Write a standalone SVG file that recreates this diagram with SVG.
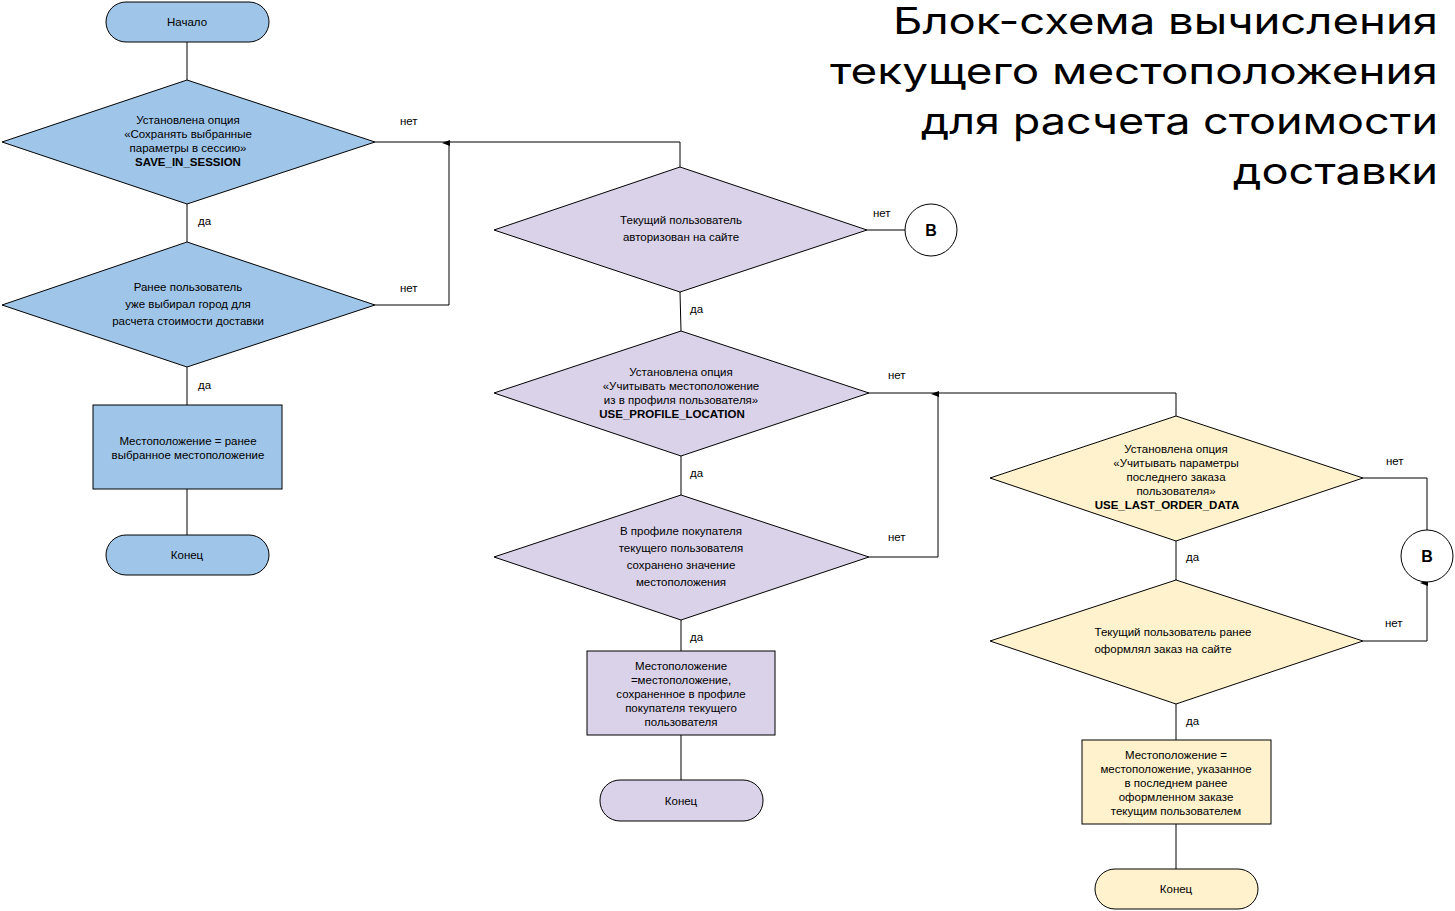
<svg xmlns="http://www.w3.org/2000/svg" width="1455" height="911" viewBox="0 0 1455 911">
<style>
.s{stroke:#000;stroke-width:1}
.b{fill:#9fc5e8}.p{fill:#d9d2e9}.y{fill:#fff2cc}
text{font-family:"Liberation Sans",Arial,sans-serif;font-size:11.5px;fill:#000}
.c{text-anchor:middle}
.bd{font-weight:bold}
.t{font-family:Inter,"Open Sans",sans-serif;font-size:37px;text-anchor:end}
.cl{fill:none;stroke:#000;stroke-width:1}
</style>
<defs><marker id="a" markerWidth="6" markerHeight="8" refX="3" refY="7" orient="auto-start-reverse" markerUnits="userSpaceOnUse"><path d="M0,8 L3,0 L6,8 Z" fill="#000"/></marker></defs>
<rect width="1455" height="911" fill="#fff"/>
<g id="title"><text class="t" x="1438" y="34" textLength="545" lengthAdjust="spacingAndGlyphs">Блок-схема вычисления</text><text class="t" x="1438" y="84" textLength="608" lengthAdjust="spacingAndGlyphs">текущего местоположения</text><text class="t" x="1438" y="134" textLength="517" lengthAdjust="spacingAndGlyphs">для расчета стоимости</text><text class="t" x="1438" y="184" textLength="205" lengthAdjust="spacingAndGlyphs">доставки</text></g>
<g id="connectors">
<path class="cl" d="M187,42V80M187,204V242M187,367V405M187,489V535"/>
<path class="cl" d="M375,142H680V167"/>
<path class="cl" d="M375,305H449V143" marker-end="url(#a)"/>
<path class="cl" d="M867,230H905M680,292L681,331M681,456V495M681,620V651M681,735V780"/>
<path class="cl" d="M869,393H1176V416"/>
<path class="cl" d="M869,557H938V394" marker-end="url(#a)"/>
<path class="cl" d="M1363,478H1427V530"/>
<path class="cl" d="M1363,641H1427V583" marker-end="url(#a)"/>
<path class="cl" d="M1176,541V580M1176,704V740M1176,824V869"/>
<text x="400" y="125">нет</text><text x="400" y="292">нет</text><text x="873" y="217">нет</text><text x="888" y="379">нет</text><text x="888" y="541">нет</text><text x="1386" y="465">нет</text><text x="1385" y="627">нет</text>
<text x="198" y="225">да</text><text x="198" y="389">да</text><text x="690" y="313">да</text><text x="690" y="477">да</text><text x="690" y="641">да</text><text x="1186" y="561">да</text><text x="1186" y="725">да</text>
</g>
<g id="start1"><rect class="s b" x="106" y="2" width="163" height="40" rx="20"/><text class="c" x="187" y="26">Начало</text></g>
<g id="d1"><polygon class="s b" points="187,80 375,142 187,204 2,142"/><text class="c" x="188" y="124">Установлена опция</text><text class="c" x="188" y="138">«Сохранять выбранные</text><text class="c" x="188" y="152">параметры в сессию»</text><text class="c bd" x="188" y="166">SAVE_IN_SESSION</text></g>
<g id="d2"><polygon class="s b" points="187,242 375,305 187,367 2,305"/><text class="c" x="188" y="291">Ранее пользователь</text><text class="c" x="188" y="308">уже выбирал город для</text><text class="c" x="188" y="325">расчета стоимости доставки</text></g>
<g id="box1"><rect class="s b" x="93" y="405" width="189" height="84"/><text class="c" x="188" y="445">Местоположение = ранее</text><text class="c" x="188" y="459">выбранное местоположение</text></g>
<g id="end1"><rect class="s b" x="106" y="535" width="163" height="40" rx="20"/><text class="c" x="187" y="559">Конец</text></g>
<g id="d3"><polygon class="s p" points="680,167 867,230 680,292 494,230"/><text class="c" x="681" y="224">Текущий пользователь</text><text class="c" x="681" y="241">авторизован на сайте</text></g>
<g id="b1"><circle cx="931" cy="230" r="26" fill="#fff" stroke="#000"/><text class="c bd" x="931" y="236" style="font-size:16px">B</text></g>
<g id="d4"><polygon class="s p" points="681,331 869,393 681,456 494,393"/><text class="c" x="681" y="376">Установлена опция</text><text class="c" x="681" y="390">«Учитывать местоположение</text><text class="c" x="681" y="404">из в профиля пользователя»</text><text class="c bd" x="672" y="418">USE_PROFILE_LOCATION</text></g>
<g id="d5"><polygon class="s p" points="681,495 869,557 681,620 494,557"/><text class="c" x="681" y="535">В профиле покупателя</text><text class="c" x="681" y="552">текущего пользователя</text><text class="c" x="681" y="569">сохранено значение</text><text class="c" x="681" y="586">местоположения</text></g>
<g id="box2"><rect class="s p" x="587" y="651" width="188" height="84"/><text class="c" x="681" y="670">Местоположение</text><text class="c" x="681" y="684">=местоположение,</text><text class="c" x="681" y="698">сохраненное в профиле</text><text class="c" x="681" y="712">покупателя текущего</text><text class="c" x="681" y="726">пользователя</text></g>
<g id="end2"><rect class="s p" x="600" y="780" width="163" height="41" rx="20"/><text class="c" x="681" y="805">Конец</text></g>
<g id="d6"><polygon class="s y" points="1176,416 1363,478 1176,541 990,478"/><text class="c" x="1176" y="453">Установлена опция</text><text class="c" x="1176" y="467">«Учитывать параметры</text><text class="c" x="1176" y="481">последнего заказа</text><text class="c" x="1176" y="495">пользователя»</text><text class="c bd" x="1167" y="509">USE_LAST_ORDER_DATA</text></g>
<g id="b2"><circle cx="1427" cy="556" r="26" fill="#fff" stroke="#000"/><text class="c bd" x="1427" y="562" style="font-size:16px">B</text></g>
<g id="d7"><polygon class="s y" points="1176,580 1363,641 1176,704 990,641"/><text class="c" x="1173" y="636">Текущий пользователь ранее</text><text class="c" x="1163" y="653">оформлял заказ на сайте</text></g>
<g id="box3"><rect class="s y" x="1082" y="740" width="189" height="84"/><text class="c" x="1176" y="759">Местоположение =</text><text class="c" x="1176" y="773">местоположение, указанное</text><text class="c" x="1176" y="787">в последнем ранее</text><text class="c" x="1176" y="801">оформленном заказе</text><text class="c" x="1176" y="815">текущим пользователем</text></g>
<g id="end3"><rect class="s y" x="1095" y="869" width="163" height="40" rx="20"/><text class="c" x="1176" y="893">Конец</text></g>
</svg>
